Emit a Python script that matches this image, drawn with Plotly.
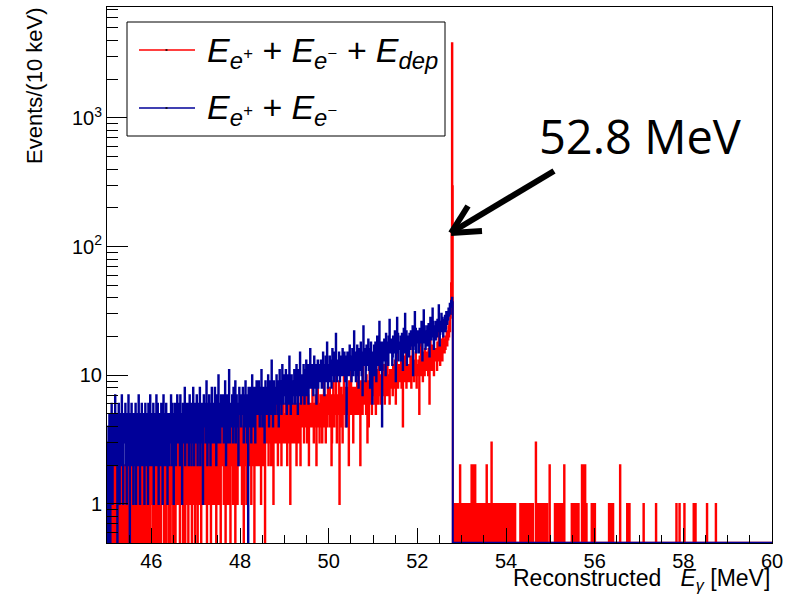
import numpy as np
import plotly.graph_objects as go

# ---------------- data (10 keV bins starting at 45.00 MeV) ----------------
e_min_mev = 45.0
bin_width_mev = 0.01
n_bins = 1500

# E_e+ + E_e- : bins 45.00 .. 52.79 (20 bins = 0.2 MeV per line)
blue_counts_main = [
    3, 1, 0, 4, 2, 5, 3, 0, 2, 4, 6, 3, 1, 2, 5, 3, 4, 2, 7, 3,
    2, 4, 5, 0, 3, 2, 6, 4, 1, 3, 5, 2, 3, 7, 4, 2, 1, 3, 5, 4,
    3, 6, 2, 4, 1, 3, 5, 2, 7, 3, 4, 0, 2, 5, 3, 6, 2, 4, 3, 1,
    5, 2, 3, 4, 6, 1, 3, 2, 5, 4, 3, 7, 2, 4, 1, 3, 5, 2, 6, 3,
    4, 3, 2, 5, 1, 4, 6, 3, 2, 4, 5, 3, 1, 6, 2, 3, 4, 7, 2, 5,
    3, 5, 2, 4, 6, 1, 3, 4, 2, 5, 3, 7, 4, 2, 6, 3, 1, 4, 5, 2,
    4, 2, 6, 3, 5, 1, 4, 7, 3, 2, 4, 5, 3, 6, 2, 4, 1, 5, 3, 4,
    2, 5, 4, 3, 7, 4, 2, 6, 3, 5, 1, 4, 3, 6, 4, 2, 5, 3, 7, 4,
    5, 3, 6, 4, 2, 7, 4, 3, 5, 1, 4, 6, 3, 5, 4, 8, 2, 4, 3, 6,
    4, 6, 3, 5, 2, 4, 7, 3, 5, 4, 2, 6, 4, 3, 8, 5, 2, 4, 6, 3,
    5, 3, 7, 4, 2, 5, 6, 3, 4, 8, 2, 5, 4, 6, 3, 5, 1, 4, 7, 5,
    4, 6, 3, 5, 9, 4, 2, 6, 5, 3, 7, 4, 5, 2, 6, 4, 8, 3, 5, 4,
    6, 3, 5, 8, 4, 6, 2, 5, 7, 4, 3, 10, 5, 4, 6, 3, 5, 7, 4, 6,
    5, 7, 4, 3, 6, 5, 9, 4, 2, 6, 5, 7, 3, 5, 4, 11, 6, 3, 5, 4,
    6, 4, 7, 5, 3, 8, 5, 6, 4, 9, 3, 5, 7, 4, 6, 5, 2, 6, 8, 5,
    5, 7, 4, 6, 5, 5, 8, 6, 3, 7, 5, 4, 9, 6, 5, 3, 7, 6, 0, 8,
    6, 4, 8, 5, 7, 3, 6, 10, 5, 7, 4, 6, 8, 5, 3, 7, 6, 9, 5, 6,
    7, 5, 9, 6, 4, 8, 6, 5, 11, 7, 4, 6, 8, 5, 7, 3, 6, 9, 7, 5,
    6, 8, 5, 10, 7, 4, 8, 6, 9, 5, 7, 13, 6, 8, 4, 7, 9, 6, 5, 8,
    8, 6, 10, 7, 5, 9, 7, 4, 8, 11, 6, 7, 9, 5, 8, 12, 6, 7, 10, 8,
    7, 9, 6, 11, 8, 5, 9, 7, 10, 6, 8, 14, 7, 9, 5, 8, 10, 7, 6, 9,
    9, 7, 11, 8, 6, 10, 8, 12, 7, 9, 5, 8, 11, 9, 7, 15, 8, 6, 10, 9,
    8, 10, 7, 12, 9, 6, 11, 9, 8, 13, 7, 10, 9, 12, 6, 9, 11, 8, 16, 9,
    10, 8, 12, 9, 11, 7, 10, 14, 9, 8, 12, 10, 6, 11, 9, 13, 8, 10, 12, 9,
    11, 9, 13, 10, 8, 12, 10, 15, 9, 11, 7, 12, 10, 14, 9, 11, 18, 10, 8, 12,
    12, 10, 14, 9, 11, 13, 8, 12, 16, 10, 11, 13, 9, 15, 11, 10, 21, 12, 9, 11,
    11, 13, 10, 15, 12, 9, 14, 11, 13, 10, 12, 16, 10, 13, 11, 15, 12, 9, 14, 12,
    4, 12, 15, 11, 14, 10, 13, 17, 12, 11, 14, 9, 13, 16, 12, 10, 14, 22, 11, 13,
    13, 9, 15, 12, 17, 10, 14, 8, 16, 11, 14, 12, 18, 13, 10, 15, 7, 14, 24, 13,
    14, 12, 16, 9, 11, 17, 14, 12, 15, 19, 13, 11, 16, 8, 12, 18, 15, 13, 6, 14,
    15, 13, 17, 10, 12, 18, 15, 9, 16, 20, 14, 12, 17, 15, 26, 11, 16, 14, 18, 15,
    4, 11, 18, 15, 13, 19, 16, 14, 10, 21, 15, 13, 18, 16, 12, 20, 17, 27, 15, 16,
    17, 15, 19, 12, 14, 20, 17, 15, 18, 22, 16, 9, 19, 17, 28, 15, 21, 13, 18, 16,
    18, 16, 20, 13, 15, 21, 18, 11, 19, 23, 17, 15, 30, 18, 16, 22, 12, 17, 20, 18,
    19, 14, 21, 18, 16, 22, 19, 17, 20, 24, 10, 16, 21, 19, 31, 17, 23, 15, 22, 18,
    20, 18, 22, 15, 17, 23, 20, 18, 21, 26, 19, 13, 22, 20, 32, 18, 24, 21, 16, 22,
    22, 20, 24, 17, 18, 25, 22, 14, 23, 28, 21, 19, 24, 22, 33, 20, 26, 16, 21, 24,
    24, 19, 26, 23, 20, 27, 24, 22, 35, 25, 17, 21, 26, 24, 30, 22, 28, 25, 20, 27,
    27, 25, 29, 22, 23, 31, 28, 25, 30, 27, 33, 29, 31, 36, 30, 34, 38, 35, 40, 37,
]

# E_e+ + E_e- + E_dep : bins 45.00 .. 52.79
red_counts_main = [
    1, 0, 2, 1, 3, 0, 1, 2, 0, 1, 4, 1, 0, 2, 1, 1, 3, 0, 2, 1,
    2, 1, 0, 1, 2, 3, 0, 1, 1, 2, 0, 1, 3, 1, 0, 2, 1, 0, 1, 2,
    0, 2, 1, 3, 1, 0, 2, 1, 4, 0, 1, 2, 1, 0, 3, 1, 2, 1, 0, 1,
    1, 3, 0, 2, 1, 1, 0, 2, 3, 1, 0, 1, 2, 4, 1, 0, 2, 1, 3, 0,
    2, 1, 1, 0, 3, 2, 1, 0, 2, 1, 3, 0, 1, 2, 1, 4, 0, 2, 1, 1,
    1, 2, 0, 3, 1, 2, 1, 0, 2, 3, 1, 1, 0, 2, 4, 1, 2, 0, 1, 3,
    2, 0, 3, 1, 2, 1, 4, 2, 0, 1, 3, 2, 1, 0, 2, 1, 3, 2, 1, 0,
    3, 1, 2, 0, 1, 2, 3, 1, 2, 0, 4, 1, 2, 3, 0, 2, 1, 1, 3, 2,
    1, 2, 3, 1, 0, 2, 1, 3, 2, 4, 1, 0, 2, 3, 1, 2, 0, 3, 2, 1,
    2, 3, 1, 0, 2, 4, 1, 2, 3, 1, 2, 0, 3, 1, 2, 5, 1, 2, 0, 3,
    3, 1, 2, 4, 0, 2, 3, 1, 2, 3, 1, 2, 0, 4, 2, 1, 3, 2, 1, 2,
    2, 4, 1, 2, 3, 0, 2, 3, 1, 5, 2, 1, 3, 2, 0, 3, 2, 4, 1, 2,
    3, 2, 1, 4, 2, 3, 0, 2, 5, 1, 3, 2, 4, 1, 2, 3, 0, 2, 3, 4,
    2, 3, 4, 1, 3, 2, 5, 0, 2, 3, 1, 4, 2, 3, 6, 1, 2, 3, 0, 4,
    3, 2, 4, 3, 1, 5, 2, 3, 4, 0, 3, 2, 5, 3, 1, 4, 2, 3, 2, 5,
    4, 2, 3, 5, 1, 3, 4, 2, 0, 3, 5, 2, 4, 3, 1, 6, 3, 2, 4, 3,
    3, 5, 2, 4, 3, 1, 4, 6, 3, 2, 4, 3, 0, 5, 3, 2, 4, 3, 5, 2,
    4, 3, 5, 2, 4, 6, 3, 1, 4, 3, 5, 2, 4, 7, 3, 4, 0, 3, 5, 4,
    5, 3, 4, 6, 2, 4, 3, 5, 7, 4, 2, 5, 3, 4, 6, 1, 4, 5, 3, 4,
    4, 6, 3, 5, 4, 2, 5, 7, 4, 3, 5, 4, 6, 2, 4, 5, 8, 3, 4, 5,
    5, 3, 6, 4, 5, 7, 2, 4, 5, 6, 3, 5, 4, 1, 6, 4, 5, 7, 3, 5,
    4, 6, 5, 3, 7, 4, 5, 2, 6, 4, 5, 8, 3, 5, 4, 6, 2, 5, 4, 7,
    5, 4, 7, 5, 3, 6, 4, 5, 9, 4, 6, 3, 5, 7, 4, 2, 6, 5, 4, 6,
    6, 4, 5, 8, 4, 6, 3, 5, 6, 4, 7, 5, 2, 6, 5, 9, 4, 6, 5, 3,
    5, 7, 4, 6, 5, 3, 7, 5, 6, 10, 4, 6, 5, 3, 7, 5, 6, 4, 8, 5,
    6, 5, 8, 4, 6, 7, 2, 3, 6, 5, 9, 6, 4, 7, 5, 6, 11, 5, 3, 6,
    7, 5, 6, 9, 1, 7, 4, 6, 8, 5, 6, 3, 7, 6, 10, 5, 7, 6, 4, 8,
    6, 8, 5, 7, 6, 2, 9, 6, 7, 5, 12, 6, 8, 5, 7, 3, 6, 8, 7, 5,
    8, 6, 7, 5, 9, 7, 6, 11, 5, 8, 7, 2, 9, 7, 6, 8, 5, 13, 7, 6,
    7, 9, 6, 8, 5, 10, 7, 3, 9, 8, 4, 7, 12, 8, 6, 9, 7, 5, 8, 10,
    9, 7, 8, 6, 10, 8, 5, 9, 7, 11, 8, 6, 9, 14, 7, 8, 10, 6, 9, 8,
    8, 10, 7, 9, 12, 8, 6, 10, 9, 7, 11, 8, 15, 9, 7, 10, 8, 6, 11, 9,
    10, 8, 11, 9, 7, 12, 9, 10, 8, 13, 9, 6, 10, 16, 9, 11, 8, 10, 12, 9,
    11, 9, 10, 13, 8, 11, 10, 4, 12, 10, 14, 9, 11, 10, 17, 8, 12, 10, 9, 11,
    10, 12, 9, 11, 14, 10, 8, 12, 11, 19, 10, 13, 9, 11, 12, 10, 15, 11, 8, 12,
    12, 10, 13, 11, 5, 14, 12, 11, 21, 10, 13, 12, 9, 15, 11, 13, 10, 16, 12, 11,
    13, 11, 15, 12, 10, 16, 13, 6, 14, 24, 12, 15, 11, 13, 17, 12, 14, 10, 16, 13,
    15, 13, 16, 14, 11, 18, 15, 13, 27, 14, 16, 12, 17, 15, 14, 19, 13, 16, 20, 15,
    17, 15, 19, 16, 20, 18, 22, 17, 21, 19, 24, 20, 26, 22, 28, 30, 52, 135, 3800, 294,
]

# red tail above 52.8 MeV: bin low edge [MeV] and count (all other bins empty)
red_tail_mev = [
    52.81, 52.83, 52.84, 52.86, 52.88, 52.90, 52.92, 52.93, 52.96, 52.98,
    53.00, 53.01, 53.03, 53.05, 53.07, 53.10, 53.12, 53.14, 53.17, 53.19,
    53.22, 53.24, 53.26, 53.28, 53.30, 53.33, 53.36, 53.38, 53.40, 53.43,
    53.45, 53.47, 53.50, 53.52, 53.54, 53.56, 53.58, 53.61, 53.63, 53.65,
    53.67, 53.70, 53.73, 53.75, 53.78, 53.81, 53.85, 53.88, 53.92, 53.95,
    53.98, 54.02, 54.05, 54.09, 54.12, 54.17, 54.20, 54.32, 54.35, 54.38,
    54.42, 54.45, 54.48, 54.52, 54.56, 54.60, 54.67, 54.70, 54.74, 54.78,
    54.83, 54.87, 54.92, 54.98, 55.10, 55.14, 55.18, 55.22, 55.26, 55.31,
    55.48, 55.52, 55.56, 55.60, 55.63, 55.71, 55.74, 55.76, 55.78, 55.81,
    55.93, 55.97, 56.00, 56.32, 56.36, 56.41, 56.57, 56.73, 56.78, 57.10,
    57.38, 57.84, 57.91, 58.02, 58.23, 58.27, 58.53, 58.73,
]
red_tail_counts = [
    1, 1, 1, 1, 1, 1, 1, 1, 2, 1,
    1, 1, 1, 1, 1, 1, 1, 1, 1, 1,
    2, 1, 2, 1, 2, 1, 1, 1, 1, 1,
    1, 1, 1, 1, 1, 2, 1, 1, 1, 1,
    3, 1, 1, 1, 1, 1, 1, 1, 1, 1,
    1, 1, 1, 1, 1, 1, 1, 1, 1, 1,
    1, 1, 1, 1, 1, 1, 3, 1, 1, 1,
    1, 1, 1, 2, 1, 1, 1, 1, 1, 2,
    1, 1, 1, 1, 1, 2, 1, 2, 2, 1,
    1, 1, 1, 1, 1, 1, 2, 1, 1, 1,
    1, 1, 1, 1, 1, 1, 1, 1,
]

x_tick_values = [46, 48, 50, 52, 54, 56, 58, 60]
y_tick_values = [1, 10, 100, 1000]
y_tick_text = ["1", "10", "10<sup>2</sup>", "10<sup>3</sup>"]

# ---------------- build histograms ----------------
blue = np.zeros(n_bins)
blue[:len(blue_counts_main)] = blue_counts_main
red = np.zeros(n_bins)
red[:len(red_counts_main)] = red_counts_main
for e, c in zip(red_tail_mev, red_tail_counts):
    red[int(round((e - e_min_mev) / bin_width_mev))] = c

edges = e_min_mev + bin_width_mev * np.arange(n_bins + 1)
y_lo = 0.497
y_hi = 10 ** 3.862
floor_val = 0.5  # empty bins are drawn on the frame bottom (ROOT style)


def step(counts):
    y = np.where(counts > 0, counts, floor_val)
    return np.append(y, y[-1])


fig = go.Figure()
fig.add_trace(go.Scatter(x=edges, y=step(red), mode="lines", line_shape="hv",
                         line=dict(color="#ff0000", width=2),
                         name="E_e+ + E_e- + E_dep", showlegend=False,
                         hoverinfo="skip"))
fig.add_trace(go.Scatter(x=edges, y=step(blue), mode="lines", line_shape="hv",
                         line=dict(color="#000099", width=2),
                         name="E_e+ + E_e-", showlegend=False,
                         hoverinfo="skip"))

# ---------------- layout geometry (pixels) ----------------
W, H = 787, 595
L, R, T, B = 107, 772, 7, 543


def px(x):
    return (x - L) / (R - L)


def py(y):
    return (B - y) / (B - T)


font_main = "Liberation Sans, Arial, Helvetica, sans-serif"

y_minor = []
for d in [0.1, 1, 10, 100, 1000]:
    for m in range(2, 10):
        v = m * d
        if y_lo < v < y_hi:
            y_minor.append(v)

x_minor = [45 + 0.5 * i for i in range(31) if (45 + 0.5 * i) % 2 != 0]

fig.update_layout(
    width=W, height=H,
    margin=dict(l=L, r=W - R, t=T, b=H - B, autoexpand=False),
    paper_bgcolor="white", plot_bgcolor="white",
    font=dict(family=font_main, color="black"),
    showlegend=False,
    xaxis=dict(range=[45, 60], showgrid=False, zeroline=False, automargin=False,
               showline=True, linecolor="black", linewidth=1, mirror=True,
               ticks="inside", ticklen=15, tickwidth=1, tickcolor="black",
               tickvals=x_tick_values, ticktext=[str(v) for v in x_tick_values],
               tickfont=dict(size=20, family=font_main),
               minor=dict(tickvals=x_minor, ticks="inside", ticklen=8,
                          tickwidth=1, tickcolor="black", showgrid=False)),
    yaxis=dict(type="log", range=[np.log10(y_lo), np.log10(y_hi)],
               showgrid=False, zeroline=False, automargin=False,
               showline=True, linecolor="black", linewidth=1, mirror=True,
               ticks="inside", ticklen=21, tickwidth=1, tickcolor="black",
               tickvals=y_tick_values, ticktext=y_tick_text,
               tickfont=dict(size=20, family=font_main),
               minor=dict(tickvals=y_minor, ticks="inside", ticklen=11,
                          tickwidth=1, tickcolor="black", showgrid=False)),
)

annotations = [
    dict(text="Events/(10 keV)", textangle=-90, xref="paper", yref="paper",
         x=px(35), y=py(86), xanchor="center", yanchor="middle",
         showarrow=False, font=dict(size=22, family=font_main)),
    dict(text="Reconstructed   <i>E<sub>γ</sub></i> [MeV]", xref="paper", yref="paper",
         x=px(772), y=py(579), xanchor="right", yanchor="middle",
         showarrow=False, font=dict(size=23, family=font_main)),
    dict(text="52.8 MeV", xref="paper", yref="paper",
         x=px(640), y=py(136), xanchor="center", yanchor="middle",
         showarrow=False, font=dict(size=47, family="Open Sans, sans-serif")),
    dict(text="<i>E<sub>e<sup>+</sup></sub> + E<sub>e<sup>−</sup></sub> + E<sub>dep</sub></i>",
         xref="paper", yref="paper", x=px(205), y=py(52),
         xanchor="left", yanchor="middle", showarrow=False,
         font=dict(size=34, family=font_main)),
    dict(text="<i>E<sub>e<sup>+</sup></sub> + E<sub>e<sup>−</sup></sub></i>",
         xref="paper", yref="paper", x=px(205), y=py(110),
         xanchor="left", yanchor="middle", showarrow=False,
         font=dict(size=34, family=font_main)),
]
fig.update_layout(annotations=annotations)

shapes = [
    # legend box
    dict(type="rect", xref="paper", yref="paper", x0=px(127), x1=px(445),
         y0=py(136), y1=py(22), line=dict(color="black", width=1),
         fillcolor="white", layer="above"),
    dict(type="line", xref="paper", yref="paper", x0=px(139), x1=px(195),
         y0=py(50), y1=py(50), line=dict(color="#ff0000", width=1.5), layer="above"),
    dict(type="line", xref="paper", yref="paper", x0=px(139), x1=px(195),
         y0=py(108), y1=py(108), line=dict(color="#000099", width=1.5), layer="above"),
    dict(type="line", xref="paper", yref="paper", x0=px(165.5), x1=px(167.5),
         y0=py(50), y1=py(50), line=dict(color="black", width=1.5), layer="above"),
    dict(type="line", xref="paper", yref="paper", x0=px(165.5), x1=px(167.5),
         y0=py(108), y1=py(108), line=dict(color="black", width=1.5), layer="above"),
    # arrow pointing at the peak
    dict(type="line", xref="paper", yref="paper", x0=px(554), y0=py(171),
         x1=px(452), y1=py(232), line=dict(color="black", width=6), layer="above"),
    dict(type="line", xref="paper", yref="paper", x0=px(451), y0=py(233),
         x1=px(468), y1=py(206), line=dict(color="black", width=6), layer="above"),
    dict(type="line", xref="paper", yref="paper", x0=px(451), y0=py(233),
         x1=px(482), y1=py(231), line=dict(color="black", width=6), layer="above"),
]
fig.update_layout(shapes=shapes)

fig.write_html("out.html",
               config={"displayModeBar": False, "staticPlot": True},
               post_script="document.body.style.margin='0';"
                           "document.body.style.overflow='hidden';")
